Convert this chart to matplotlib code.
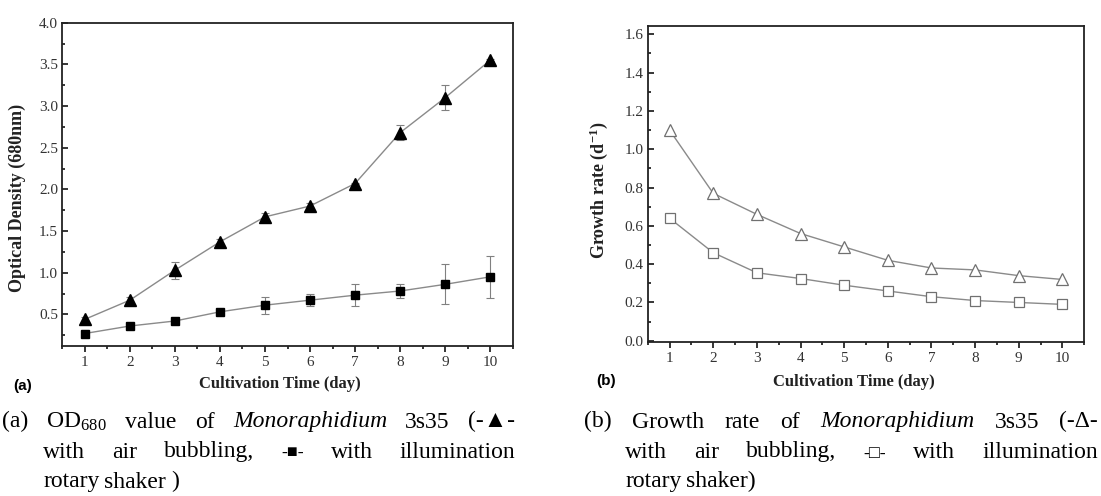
import matplotlib
matplotlib.use("Agg")
import matplotlib.pyplot as plt
from matplotlib.ticker import MultipleLocator
from matplotlib.transforms import IdentityTransform

# --- data ---
days = [1, 2, 3, 4, 5, 6, 7, 8, 9, 10]

od_air = [0.44, 0.67, 1.03, 1.37, 1.67, 1.80, 2.07, 2.68, 3.10, 3.55]
od_air_err = [0.03, 0.04, 0.10, 0.03, 0.05, 0.04, 0.01, 0.09, 0.15, 0.01]
od_shaker = [0.27, 0.36, 0.42, 0.53, 0.61, 0.67, 0.73, 0.78, 0.86, 0.95]
od_shaker_err = [0.04, 0.01, 0.01, 0.01, 0.10, 0.07, 0.13, 0.08, 0.24, 0.25]

rate_air = [1.10, 0.77, 0.66, 0.56, 0.49, 0.42, 0.38, 0.37, 0.34, 0.32]
rate_shaker = [0.64, 0.46, 0.355, 0.325, 0.29, 0.26, 0.23, 0.21, 0.20, 0.19]

plt.rcParams['font.family'] = ['Liberation Serif', 'DejaVu Sans']
plt.rcParams['mathtext.fontset'] = 'stix'

W, H = 1101, 496
fig = plt.figure(figsize=(W / 100, H / 100), dpi=100)

ax1 = fig.add_axes([62.3 / W, 1 - 346 / H, 450.4 / W, 323.3 / H])
ax2 = fig.add_axes([647.7 / W, 1 - 342.3 / H, 436.6 / W, 316.6 / H])


def style_axes(ax):
    for sp in ax.spines.values():
        sp.set_linewidth(1.3)
        sp.set_color('#222222')
    ax.set_xticks(days)
    ax.xaxis.set_minor_locator(MultipleLocator(0.5))
    ax.tick_params(axis='x', which='both', direction='out', top=False,
                   labelsize=11, labelcolor='#333333', width=1.1, pad=3)
    ax.tick_params(axis='y', which='both', direction='in', right=False,
                   labelsize=11, labelcolor='#333333', width=1.1, pad=3)
    ax.tick_params(which='major', length=4.2)
    ax.tick_params(which='minor', length=2.4)


# (a) optical density
ax1.errorbar(days, od_air, yerr=od_air_err, fmt='none', ecolor='#808080',
             elinewidth=0.8, capsize=2.8, capthick=0.8, zorder=1)
ax1.errorbar(days, od_shaker, yerr=od_shaker_err, fmt='none', ecolor='#808080',
             elinewidth=0.8, capsize=2.8, capthick=0.8, zorder=1)
ax1.plot(days, od_air, color='#8a8a8a', lw=1.0, zorder=2)
ax1.plot(days, od_shaker, color='#8a8a8a', lw=1.0, zorder=2)
ax1.plot(days, od_air, ls='none', marker='^', ms=8, color='black', zorder=3)
ax1.plot(days, od_shaker, ls='none', marker='s', ms=6, color='black', zorder=3)
ax1.set_xlim(0.5, 10.5)
ax1.set_ylim(0.12, 4.0)
ax1.set_yticks([0.5, 1.0, 1.5, 2.0, 2.5, 3.0, 3.5, 4.0])
ax1.yaxis.set_minor_locator(MultipleLocator(0.25))
style_axes(ax1)
ax1.set_xlabel('Cultivation Time (day)', fontsize=12, fontweight='bold', color='#222222')
ax1.set_ylabel('Optical Density (680nm)', fontsize=13, fontweight='bold', color='#222222')
ax1.xaxis.set_label_coords(0.482, -0.092)
ax1.yaxis.set_label_coords(-0.080, 0.458)

# (b) growth rate
ax2.plot(days, rate_air, color='#8a8a8a', lw=1.0, marker='^', ms=9,
         mfc='white', mec='#707070', mew=0.9)
ax2.plot(days, rate_shaker, color='#8a8a8a', lw=1.0, marker='s', ms=6.5,
         mfc='white', mec='#707070', mew=0.9)
ax2.set_xlim(0.5, 10.5)
ax2.set_ylim(-0.008, 1.645)
ax2.set_yticks([0.0, 0.2, 0.4, 0.6, 0.8, 1.0, 1.2, 1.4, 1.6])
ax2.yaxis.set_minor_locator(MultipleLocator(0.1))
style_axes(ax2)
ax2.set_xlabel('Cultivation Time (day)', fontsize=12, fontweight='bold', color='#222222')
ax2.set_ylabel(r'Growth rate (d$^\mathregular{-1}$)', fontsize=13, fontweight='bold',
               color='#222222', family='Liberation Serif')
ax2.xaxis.set_label_coords(0.4725, -0.10)
ax2.yaxis.set_label_coords(-0.086, 0.481)

# panel tags
ident = IdentityTransform()
fig.text(13, H - 386, '(a)', transform=ident, family='Liberation Sans',
         fontweight='bold', fontsize=11, va='center', ha='left')
fig.text(596, H - 381, '(b)', transform=ident, family='Liberation Sans',
         fontweight='bold', fontsize=11, va='center', ha='left')

# captions, justified like the source document
renderer = fig.canvas.get_renderer()


def caption_line(words, x0, y_img, x1=None, size=17):
    texts = []
    for w, kw in words:
        kw = dict(kw)
        fs = kw.pop('fontsize', size)
        t = fig.text(0, H - y_img, w, transform=ident, fontsize=fs,
                     va='baseline', ha='left', **kw)
        texts.append(t)
    widths = [t.get_window_extent(renderer).width for t in texts]
    if x1 is None or len(texts) == 1:
        gap = size * 0.3
    else:
        gap = (x1 - x0 - sum(widths)) / (len(texts) - 1)
    x = x0
    for t, w in zip(texts, widths):
        t.set_x(x)
        x += w + gap


plain = {}
ital = {'style': 'italic'}
sub = {'family': 'Liberation Serif'}
small = {'fontsize': 13}

caption_line([('(a)', plain), (r'OD$_\mathregular{680}$', sub), ('value', plain),
              ('of', plain), ('Monoraphidium', ital), ('3s35', plain), ('(-▲-', plain)],
             2, 427.5, 515)
caption_line([('with', plain), ('air', plain), ('bubbling,', plain), ('-■-', small),
              ('with', plain), ('illumination', plain)], 43, 457.5, 515)
caption_line([('rotary', plain), ('shaker', plain), (')', plain)], 43, 487.5)

caption_line([('(b)', plain), ('Growth', plain), ('rate', plain), ('of', plain),
              ('Monoraphidium', ital), ('3s35', plain), ('(-Δ-', plain)],
             584, 427.5, 1098)
caption_line([('with', plain), ('air', plain), ('bubbling,', plain), ('-□-', small),
              ('with', plain), ('illumination', plain)], 625, 457.5, 1098)
caption_line([('rotary', plain), ('shaker)', plain)], 625, 487.5)

fig.savefig('out.png', dpi=100)
